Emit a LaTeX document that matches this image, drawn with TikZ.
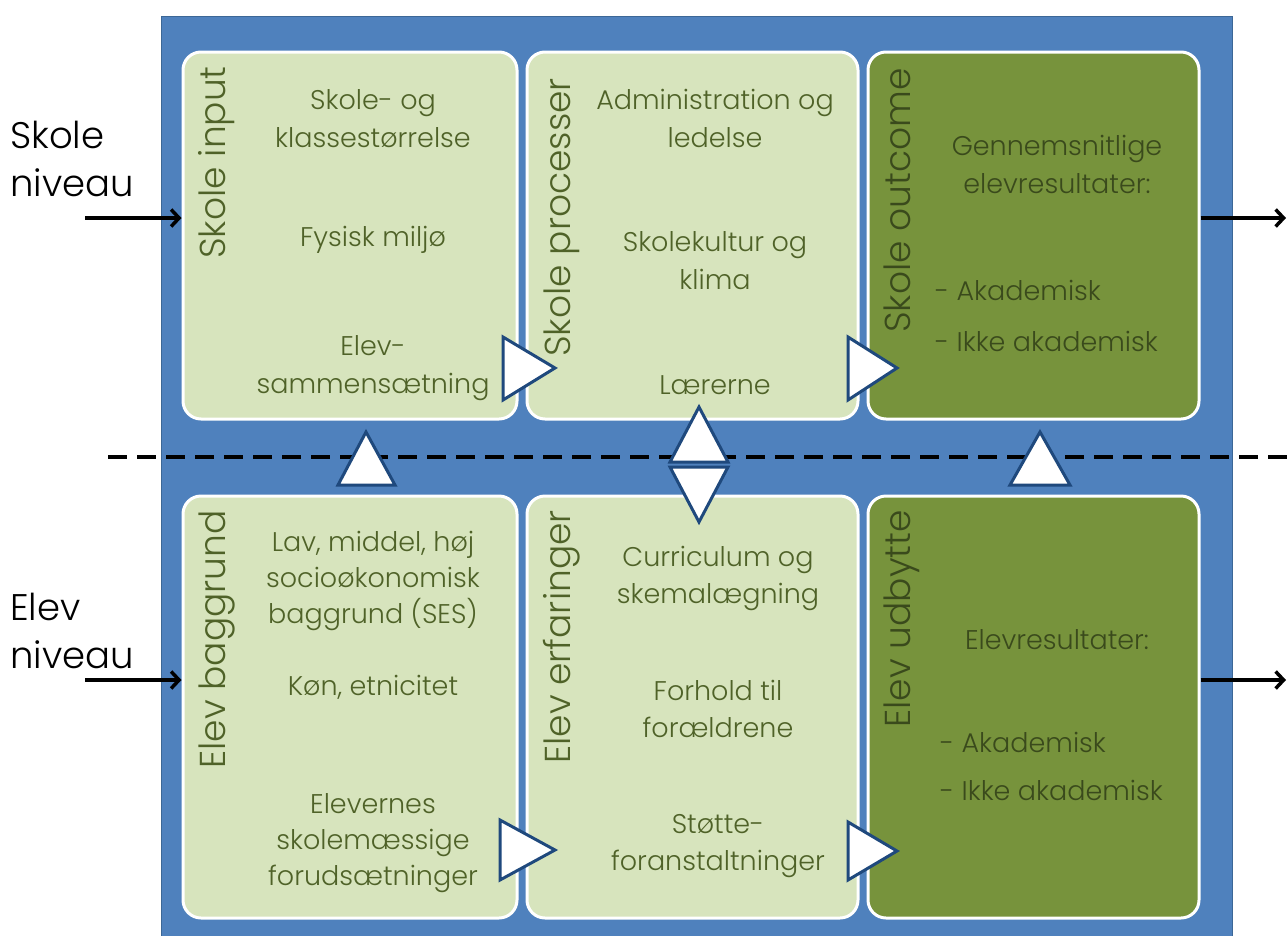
\documentclass[tikz,border=0pt]{standalone}
\usepackage{fontspec}
\IfFontExistsTF{Poppins Light}{\setmainfont{Poppins Light}}{\setmainfont{Poppins}}
\usetikzlibrary{arrows.meta}

\definecolor{frameblue}{HTML}{4F81BD}
\definecolor{frameedge}{HTML}{3C6796}
\definecolor{lightgreen}{HTML}{D7E4BD}
\definecolor{darkgreen}{HTML}{77933C}
\definecolor{olivetext}{HTML}{4F6228}
\definecolor{darkolive}{HTML}{3A4A1C}
\definecolor{tribord}{HTML}{1F497D}

\tikzset{
  panel/.style={draw=white, line width=3pt, rounded corners=18pt, inner sep=0pt},
  lightpanel/.style={panel, fill=lightgreen},
  darkpanel/.style={panel, fill=darkgreen},
  bodytext/.style={text=olivetext, align=center, inner sep=0pt,
    font=\fontsize{27}{38}\selectfont},
  darkbody/.style={bodytext, text=darkolive},
  listitem/.style={text=darkolive, inner sep=0pt, anchor=base west,
    font=\fontsize{27}{38}\selectfont},
  paneltitle/.style={text=olivetext, rotate=90, anchor=base east, inner sep=0pt,
    font=\fontsize{36}{40}\selectfont},
  darktitle/.style={paneltitle, text=darkolive},
  levellabel/.style={align=left, anchor=west, inner sep=0pt,
    font=\fontsize{37}{48}\selectfont},
  levelarrow/.style={line width=3.5pt, -{Straight Barb[length=8pt,width=17pt]}},
  flowtri/.style={fill=white, draw=tribord, line width=3pt, line join=miter},
  divider/.style={line width=4.5pt, dash pattern=on 19pt off 10pt}
}

\begin{document}
\begin{tikzpicture}[x=1pt, y=-1pt]
\useasboundingbox (0,0) rectangle (1288,935);

% blue frame
\fill[frameblue, draw=frameedge, line width=1pt] (161,16) rectangle (1232,950);

% school level panels
\node[lightpanel, minimum width=334pt, minimum height=367pt] (sin) at (350,235.5) {};
\node[lightpanel, minimum width=331pt, minimum height=367pt] (spr) at (692.5,235.5) {};
\node[darkpanel,  minimum width=331pt, minimum height=367pt] (sout) at (1033.5,235.5) {};

% student level panels
\node[lightpanel, minimum width=334pt, minimum height=422pt] (ebg) at (350,707) {};
\node[lightpanel, minimum width=331pt, minimum height=422pt] (eer) at (692.5,707) {};
\node[darkpanel,  minimum width=331pt, minimum height=422pt] (eud) at (1033.5,707) {};

% panel titles
\node[paneltitle] (sinT) at (225,66) {Skole input};
\node[paneltitle] (sprT) at (570,78) {Skole processer};
\node[darktitle]  (soutT) at (910,68) {Skole outcome};
\node[paneltitle] (ebgT) at (225,510) {Elev baggrund};
\node[paneltitle] (eerT) at (570,510) {Elev erfaringer};
\node[darktitle]  (eudT) at (910,510) {Elev udbytte};

% school input
\node[bodytext] (sin1) at (373,119) {Skole- og\\klassestørrelse};
\node[bodytext] (sin2) at (373,240) {Fysisk miljø};
\node[bodytext] (sin3) at (373,368) {Elev-\\sammensætning};

% school processes
\node[bodytext] (spr1) at (715,118) {Administration og\\ledelse};
\node[bodytext] (spr2) at (715,261) {Skolekultur og\\klima};
\node[bodytext] (spr3) at (715,385) {Lærerne};

% school outcome
\node[darkbody] (sout1) at (1057,164) {Gennemsnitlige\\elevresultater:};
\node[listitem] (sout2) at (935,300) {- Akademisk};
\node[listitem] (sout3) at (935,351) {- Ikke akademisk};

% student background
\node[bodytext, font=\fontsize{27}{36}\selectfont] (ebg1) at (373,581)
  {Lav, middel, høj\\socioøkonomisk\\baggrund (SES)};
\node[bodytext] (ebg2) at (373,687) {Køn, etnicitet};
\node[bodytext, font=\fontsize{27}{36}\selectfont] (ebg3) at (373,843)
  {Elevernes\\skolemæssige\\forudsætninger};

% student experiences
\node[bodytext, font=\fontsize{27}{37}\selectfont] (eer1) at (718,578) {Curriculum og\\skemalægning};
\node[bodytext, font=\fontsize{27}{37}\selectfont] (eer2) at (718,709) {Forhold til\\forældrene};
\node[bodytext, font=\fontsize{27}{37}\selectfont] (eer3) at (718,846) {Støtte-\\foranstaltninger};

% student outcome
\node[darkbody] (eud1) at (1057,640) {Elevresultater:};
\node[listitem] (eud2) at (940,752) {- Akademisk};
\node[listitem] (eud3) at (940,800) {- Ikke akademisk};

% level labels
\node[levellabel] (lvS) at (10,159) {Skole\\niveau};
\node[levellabel] (lvE) at (10,631) {Elev\\niveau};

% level divider
\coordinate (divL) at (108,457);
\coordinate (divR) at (1288,457);
\draw[divider] (divL) -- (divR);

% inputs and outputs per level
\coordinate (inS) at (85,218);
\coordinate (inE) at (85,680);
\coordinate (outS) at (1286,218);
\coordinate (outE) at (1286,680);
\draw[levelarrow] (inS) -- (inS -| sin.west);
\draw[levelarrow] (inE) -- (inE -| ebg.west);
\draw[levelarrow] (outS -| sout.east) -- (outS);
\draw[levelarrow] (outE -| eud.east) -- (outE);

% horizontal flow markers
\draw[flowtri] (503,337) -- (555,368) -- (503,400) -- cycle;
\draw[flowtri] (848,337) -- (897,368) -- (848,400) -- cycle;
\draw[flowtri] (500,820) -- (555,850) -- (500,880) -- cycle;
\draw[flowtri] (848,822) -- (897,851) -- (848,880) -- cycle;

% vertical flow markers
\draw[flowtri] (338,485) -- (366,432) -- (395,485) -- cycle;
\draw[flowtri] (670,462) -- (699,407) -- (728,462) -- cycle;
\draw[flowtri] (670,467) -- (728,467) -- (699,522) -- cycle;
\draw[flowtri] (1010,485) -- (1040,432) -- (1070,485) -- cycle;
\end{tikzpicture}
\end{document}
